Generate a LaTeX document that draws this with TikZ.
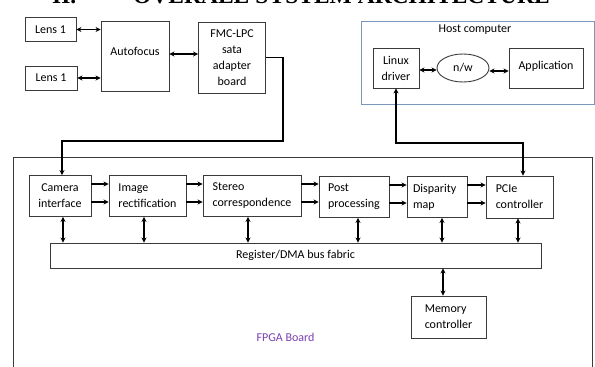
\documentclass[tikz,border=0pt]{standalone}
\usepackage{fontspec}
\setmainfont{Carlito}
\newfontfamily\headfont{Liberation Serif}
\usetikzlibrary{arrows.meta,shapes.geometric}
\definecolor{boxline}{HTML}{3A3A3A}
\definecolor{hostline}{HTML}{7A98BC}
\definecolor{fpgatext}{HTML}{7A3FB0}
\tikzset{
  txt/.style={font=\fontsize{12}{16}\selectfont},
  blk/.style={txt, draw=boxline, line width=0.9pt, inner sep=2pt},
  conn/.style={draw=black, line width=1.4pt,
    arrows={-Stealth[length=5pt,width=5pt]}},
  dbl/.style={draw=black, line width=1.4pt,
    arrows={Stealth[length=5pt,width=5pt]-Stealth[length=5pt,width=5pt]}},
  heading/.style={anchor=base west, inner sep=0,
    font=\headfont\bfseries\fontsize{23.5}{26}\selectfont}
}
\begin{document}
\begin{tikzpicture}[x=1pt,y=-1pt]
\useasboundingbox (0,0) rectangle (595,367);

% section heading, cut by the top edge
\node[heading] (secno) at (52,3) {II.};
\node[heading] (sectitle) at (133,3) {OVERALL SYSTEM ARCHITECTURE};

% FPGA board frame (open at the bottom edge)
\draw[boxline, line width=0.9pt] (13,367) -- (13,157) -- (592,157) -- (592,367);
\node[txt, text=fpgatext] (fpgalbl) at (285.5,337) {FPGA Board};

% host computer frame
\node[draw=hostline, line width=1pt, minimum width=233pt, minimum height=83pt] (host) at (477.5,62.5) {};
\node[txt] (hostlbl) at (475,30) {Host computer};

% camera side
\node[blk, minimum width=51pt, minimum height=24pt] (lensa) at (50.5,29.5) {Lens 1};
\node[blk, minimum width=52pt, minimum height=24pt] (lensb) at (51,78) {Lens 1};
\node[blk, minimum width=68pt, minimum height=70pt, text depth=9pt] (af) at (135,56) {Autofocus};
\node[blk, minimum width=67pt, minimum height=71pt, align=center] (fmc) at (232,57.5) {FMC-LPC\\sata\\adapter\\board};

% host side
\node[blk, minimum width=46pt, minimum height=40pt, align=center] (linux) at (396,68) {Linux\\driver};
\node[blk, ellipse, minimum width=52pt, minimum height=28pt, inner sep=0pt] (nw) at (463,68) {n/w};
\node[blk, minimum width=74pt, minimum height=40pt, text depth=6pt] (app) at (546,68) {Application};

% processing pipeline
\node[blk, minimum width=62pt, minimum height=41pt, align=center] (cam) at (60,196) {Camera\\interface};
\node[blk, minimum width=77pt, minimum height=41pt, align=left] (rect) at (147.5,196) {Image\\rectification};
\node[blk, minimum width=98pt, minimum height=41pt, align=left] (stereo) at (252,196) {Stereo\\correspondence};
\node[blk, minimum width=70pt, minimum height=41pt, align=left] (post) at (354,197) {Post\\processing};
\node[blk, minimum width=60pt, minimum height=41pt, align=left, text width=48pt] (disp) at (437,197) {Disparity\\map};
\node[blk, minimum width=67pt, minimum height=42pt, align=left] (pcie) at (519.5,197) {PCIe\\controller};
\node[blk, minimum width=491pt, minimum height=25pt] (bus) at (295.5,255.5) {Register/DMA bus fabric};
\node[blk, minimum width=75pt, minimum height=42pt, align=left] (mem) at (448.5,317) {Memory\\controller};

% camera side links
\draw[dbl] (lensa.east) -- (lensa.east -| af.west);
\draw[dbl] (lensb.east) -- (lensb.east -| af.west);
\draw[dbl] ([yshift=2pt]af.east) -- ([yshift=2pt]af.east -| fmc.west);
\coordinate (fmcturn) at (283,141);
\draw[conn] (fmc.east) -| (fmcturn) -| ([xshift=2pt]cam.north);

% host side links
\draw[dbl] ([yshift=-2pt]linux.east) -- ([yshift=-2pt]linux.east -| nw.west);
\draw[dbl] ([yshift=-3pt]nw.east) -- ([yshift=-3pt]nw.east -| app.west);
\coordinate (hostturn) at (523,143);
\draw[dbl] (linux.south) |- (hostturn) -- ([xshift=3.5pt]pcie.north);

% pipeline data paths
\foreach \a/\b in {cam/rect, rect/stereo, stereo/post, post/disp, disp/pcie}{
  \draw[conn] ([yshift=12pt]\a.east) -- ([yshift=12pt]\a.east -| \b.west);
  \draw[conn] ([yshift=-6pt]\a.east) -- ([yshift=-6pt]\a.east -| \b.west);
}

% bus connections
\foreach \n/\dx in {cam/3, rect/-3.5, stereo/-4, post/4, disp/5, pcie/-1.5}{
  \draw[dbl] ([xshift=\dx pt]\n.south) coordinate (tap) -- (tap |- bus.north);
}
\draw[dbl] ([xshift=-5.5pt]mem.north) coordinate (memtap) -- (memtap |- bus.south);
\end{tikzpicture}
\end{document}
